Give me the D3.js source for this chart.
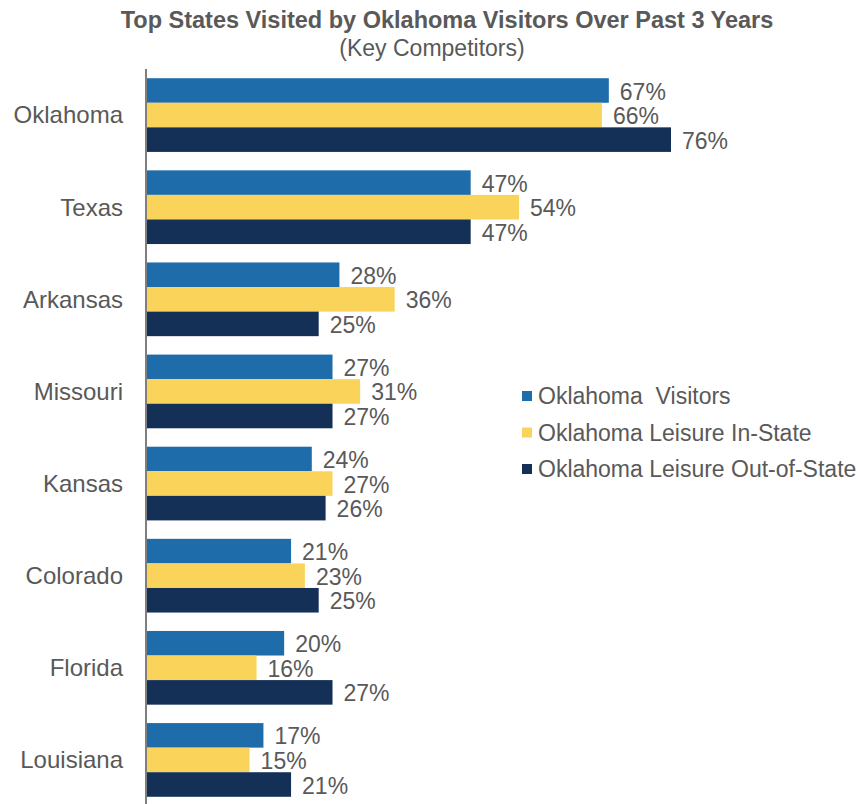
<!DOCTYPE html>
<html lang="en">
<head>
<meta charset="UTF-8">
<title>Top States Visited</title>
<script src="https://d3js.org/d3.v7.min.js"></script>
<style>
  body { margin: 0; background: #fff; }
  text { font-family: "Liberation Sans", Arial, sans-serif; fill: #595959; }
</style>
</head>
<body>
<svg width="858" height="804"></svg>
<script>
  // data
  var states = ["Oklahoma", "Texas", "Arkansas", "Missouri", "Kansas", "Colorado", "Florida", "Louisiana"];
  var seriesNames = ["Oklahoma  Visitors", "Oklahoma Leisure In-State", "Oklahoma Leisure Out-of-State"];
  var visitors = [67, 47, 28, 27, 24, 21, 20, 17];
  var leisureIn = [66, 54, 36, 31, 27, 23, 16, 15];
  var leisureOut = [76, 47, 25, 27, 26, 25, 27, 21];
  var colors = ["#1f6cab", "#fad35a", "#143056"];

  var svg = d3.select("svg");
  var series = [visitors, leisureIn, leisureOut];

  var x = d3.scaleLinear().domain([0, 76]).range([146, 671]);
  var y = d3.scaleBand().domain(states).range([69, 806]).paddingInner(0.2).paddingOuter(0.1);
  var ySub = d3.scaleBand().domain(d3.range(3)).range([0, y.bandwidth()]);

  // title
  svg.append("text").attr("x", 447).attr("y", 28).attr("text-anchor", "middle")
    .style("font-size", "23.5px").style("font-weight", "bold")
    .text("Top States Visited by Oklahoma Visitors Over Past 3 Years");
  svg.append("text").attr("x", 432).attr("y", 56).attr("text-anchor", "middle")
    .style("font-size", "23px")
    .text("(Key Competitors)");

  // bars
  var groups = svg.append("g").selectAll("g")
    .data(states).enter().append("g")
    .attr("transform", function (d) { return "translate(0," + y(d) + ")"; });

  groups.each(function (s, i) {
    var g = d3.select(this);
    series.forEach(function (vals, k) {
      g.append("rect")
        .attr("x", x(0))
        .attr("y", ySub(k))
        .attr("width", x(vals[i]) - x(0))
        .attr("height", ySub.bandwidth())
        .attr("fill", colors[k]);
      g.append("text")
        .attr("x", x(vals[i]) + 11)
        .attr("y", ySub(k) + ySub.bandwidth() / 2 + 1)
        .attr("dy", "0.35em")
        .style("font-size", "23px")
        .text(vals[i] + "%");
    });
  });

  // axis line + category labels
  svg.append("line").attr("x1", 146).attr("x2", 146).attr("y1", 69).attr("y2", 804)
    .attr("stroke", "#7f7f7f").attr("stroke-width", 2);

  svg.append("g").selectAll("text")
    .data(states).enter().append("text")
    .attr("x", 123)
    .attr("y", function (d) { return y(d) + y.bandwidth() / 2; })
    .attr("dy", "0.35em")
    .attr("text-anchor", "end")
    .style("font-size", "24px")
    .text(function (d) { return d; });

  // legend
  var legend = svg.append("g").selectAll("g")
    .data(seriesNames).enter().append("g")
    .attr("transform", function (d, i) { return "translate(522," + (396 + i * 36.5) + ")"; });
  legend.append("rect").attr("x", 0).attr("y", -5).attr("width", 10).attr("height", 10)
    .attr("fill", function (d, i) { return colors[i]; });
  legend.append("text").attr("x", 16).attr("dy", "0.35em")
    .style("font-size", "23px").style("white-space", "pre").attr("xml:space", "preserve")
    .text(function (d) { return d; });
</script>
</body>
</html>
